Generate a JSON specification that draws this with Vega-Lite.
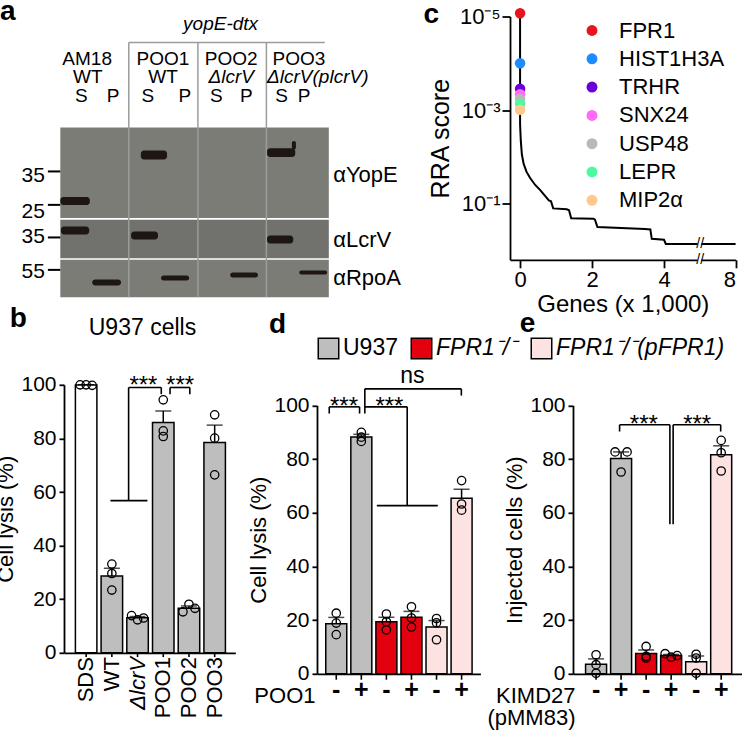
{
  "$schema": "https://vega.github.io/schema/vega-lite/v6.json",
  "padding": {"left": -6, "top": -2.5, "right": 0, "bottom": 0},
  "background": "white",
  "bounds": "flush",
  "spacing": 368.3,
  "resolve": {"scale": {"color": "independent"}, "legend": {"color": "independent"}},
  "config": {
    "font": "Liberation Sans",
    "view": {"stroke": null},
    "axis": {"grid": false, "domainColor": "black", "domainWidth": 1.8, "tickColor": "black", "tickWidth": 1.8, "labelColor": "black", "titleColor": "black", "labelFontSize": 21, "titleFontSize": 22, "titleFontWeight": "normal", "tickSize": 5, "labelPadding": 3, "titlePadding": 3},
    "legend": {"labelColor": "black", "padding": 0},
    "text": {"color": "black"}
  },
  "vconcat": [
    {
      "hconcat": [
        {
          "width": 345.7, "height": 280.7,
          "layer": [
            {"data": {"values": [
              {"probe": "YopE", "x1": 0, "x2": 8, "y1": 0, "y2": 53.4},
              {"probe": "LcrV", "x1": 0, "x2": 8, "y1": 54.4, "y2": 77.0},
              {"probe": "RpoA", "x1": 0, "x2": 8, "y1": 78.0, "y2": 100}]},
             "mark": {"type": "rect"},
             "encoding": {
               "x": {"field": "x1", "type": "quantitative", "scale": {"domain": [0.11, 10.41], "nice": false, "zero": false}, "axis": null},
               "x2": {"field": "x2"},
               "y": {"field": "y1", "type": "quantitative", "scale": {"domain": [-65.4, 100], "reverse": true, "nice": false, "zero": false}, "axis": null},
               "y2": {"field": "y2"},
               "color": {"condition": {"test": "datum.probe == 'LcrV'", "value": "#71716d"}, "value": "#7c7c77"}
             }},
            {"data": {"values": [
              {"x1": 2.04, "x2": 2.04, "y1": -50.1, "y2": 100},
              {"x1": 4.10, "x2": 4.10, "y1": -50.1, "y2": 100},
              {"x1": 6.14, "x2": 6.14, "y1": -50.1, "y2": 100},
              {"x1": 2.04, "x2": 7.88, "y1": -50.1, "y2": -50.1}]},
             "mark": {"type": "rule", "color": "#9c9c9c", "strokeWidth": 1.5},
             "encoding": {
               "x": {"field": "x1", "type": "quantitative", "scale": {"domain": [0.11, 10.41], "nice": false, "zero": false}, "axis": null},
               "x2": {"field": "x2"},
               "y": {"field": "y1", "type": "quantitative", "scale": {"domain": [-65.4, 100], "reverse": true, "nice": false, "zero": false}, "axis": null},
               "y2": {"field": "y2"}
             }},
            {"data": {"values": [
              {"probe": "YopE", "lane": "AM18 S", "x1": 0.00, "x2": 0.88, "y1": 40.9, "y2": 45.6},
              {"probe": "YopE", "lane": "POO1 S", "x1": 2.40, "x2": 3.18, "y1": 13.6, "y2": 18.9},
              {"probe": "YopE", "lane": "POO3 S", "x1": 6.16, "x2": 7.00, "y1": 12.2, "y2": 17.4},
              {"probe": "YopE", "lane": "POO3 S", "x1": 6.9, "x2": 7.02, "y1": 8.0, "y2": 13.0},
              {"probe": "LcrV", "lane": "AM18 S", "x1": 0.02, "x2": 0.86, "y1": 58.3, "y2": 63.1},
              {"probe": "LcrV", "lane": "POO1 S", "x1": 2.11, "x2": 2.91, "y1": 61.3, "y2": 66.0},
              {"probe": "LcrV", "lane": "POO3 S", "x1": 6.16, "x2": 6.94, "y1": 63.6, "y2": 68.4},
              {"probe": "RpoA", "lane": "AM18 P", "x1": 0.95, "x2": 1.81, "y1": 89.6, "y2": 93.1},
              {"probe": "RpoA", "lane": "POO1 P", "x1": 3.00, "x2": 3.84, "y1": 87.2, "y2": 90.2},
              {"probe": "RpoA", "lane": "POO2 P", "x1": 5.06, "x2": 5.89, "y1": 85.4, "y2": 88.4},
              {"probe": "RpoA", "lane": "POO3 P", "x1": 7.12, "x2": 7.95, "y1": 84.3, "y2": 86.6}]},
             "mark": {"type": "rect", "cornerRadius": 3, "color": "#1d1612"},
             "encoding": {
               "x": {"field": "x1", "type": "quantitative", "scale": {"domain": [0.11, 10.41], "nice": false, "zero": false}, "axis": null},
               "x2": {"field": "x2"},
               "y": {"field": "y1", "type": "quantitative", "scale": {"domain": [-65.4, 100], "reverse": true, "nice": false, "zero": false}, "axis": null},
               "y2": {"field": "y2"}
             }},
            {"data": {"values": [
              {"x1": -0.37, "x2": 0, "y1": 25.9, "y2": 25.9},
              {"x1": -0.37, "x2": 0, "y1": 45.6, "y2": 45.6},
              {"x1": -0.37, "x2": 0, "y1": 64.8, "y2": 64.8},
              {"x1": -0.37, "x2": 0, "y1": 83.9, "y2": 83.9}]},
             "mark": {"type": "rule", "color": "black", "strokeWidth": 2},
             "encoding": {
               "x": {"field": "x1", "type": "quantitative", "scale": {"domain": [0.11, 10.41], "nice": false, "zero": false}, "axis": null},
               "x2": {"field": "x2"},
               "y": {"field": "y1", "type": "quantitative", "scale": {"domain": [-65.4, 100], "reverse": true, "nice": false, "zero": false}, "axis": null},
               "y2": {"field": "y2"}
             }},
            {"data": {"values": [
              {"x": -0.46, "y": 28.5, "t": "35"},
              {"x": -0.46, "y": 49.8, "t": "25"},
              {"x": -0.46, "y": 64.8, "t": "35"},
              {"x": -0.46, "y": 84.9, "t": "55"}]},
             "mark": {"type": "text", "fontSize": 21, "align": "right", "baseline": "middle"},
             "encoding": {
               "x": {"field": "x", "type": "quantitative", "scale": {"domain": [0.11, 10.41], "nice": false, "zero": false}, "axis": null},
               "y": {"field": "y", "type": "quantitative", "scale": {"domain": [-65.4, 100], "reverse": true, "nice": false, "zero": false}, "axis": null},
               "text": {"field": "t"}
             }},
            {"data": {"values": [
              {"x": 8.13, "y": 27.9, "t": "αYopE"},
              {"x": 8.13, "y": 66.2, "t": "αLcrV"},
              {"x": 8.13, "y": 88.8, "t": "αRpoA"}]},
             "mark": {"type": "text", "fontSize": 22, "align": "left", "baseline": "middle"},
             "encoding": {
               "x": {"field": "x", "type": "quantitative", "scale": {"domain": [0.11, 10.41], "nice": false, "zero": false}, "axis": null},
               "y": {"field": "y", "type": "quantitative", "scale": {"domain": [-65.4, 100], "reverse": true, "nice": false, "zero": false}, "axis": null},
               "text": {"field": "t"}
             }},
            {"data": {"values": [
              {"x": 0.80, "y": -40.5, "t": "AM18"},
              {"x": 3.06, "y": -40.5, "t": "POO1"},
              {"x": 5.09, "y": -40.5, "t": "POO2"},
              {"x": 7.11, "y": -40.5, "t": "POO3"},
              {"x": 0.82, "y": -29.7, "t": "WT"},
              {"x": 3.06, "y": -29.7, "t": "WT"},
              {"x": 0.63, "y": -18.8, "t": "S"},
              {"x": 1.57, "y": -18.8, "t": "P"},
              {"x": 2.61, "y": -18.8, "t": "S"},
              {"x": 3.71, "y": -18.8, "t": "P"},
              {"x": 4.65, "y": -18.8, "t": "S"},
              {"x": 5.54, "y": -18.8, "t": "P"},
              {"x": 6.59, "y": -18.8, "t": "S"},
              {"x": 7.26, "y": -18.8, "t": "P"}]},
             "mark": {"type": "text", "fontSize": 19, "align": "center", "baseline": "middle"},
             "encoding": {
               "x": {"field": "x", "type": "quantitative", "scale": {"domain": [0.11, 10.41], "nice": false, "zero": false}, "axis": null},
               "y": {"field": "y", "type": "quantitative", "scale": {"domain": [-65.4, 100], "reverse": true, "nice": false, "zero": false}, "axis": null},
               "text": {"field": "t"}
             }},
            {"data": {"values": [
              {"x": 4.775, "y": -60.7, "t": "yopE-dtx"},
              {"x": 5.09, "y": -29.7, "t": "ΔlcrV"}]},
             "mark": {"type": "text", "fontSize": 19, "fontStyle": "italic", "align": "center", "baseline": "middle"},
             "encoding": {
               "x": {"field": "x", "type": "quantitative", "scale": {"domain": [0.11, 10.41], "nice": false, "zero": false}, "axis": null},
               "y": {"field": "y", "type": "quantitative", "scale": {"domain": [-65.4, 100], "reverse": true, "nice": false, "zero": false}, "axis": null},
               "text": {"field": "t"}
             }},
            {"data": {"values": [
              {"x": 6.16, "y": -29.7, "t": "ΔlcrV(plcrV)"}]},
             "mark": {"type": "text", "fontSize": 19, "fontStyle": "italic", "align": "left", "baseline": "middle"},
             "encoding": {
               "x": {"field": "x", "type": "quantitative", "scale": {"domain": [0.11, 10.41], "nice": false, "zero": false}, "axis": null},
               "y": {"field": "y", "type": "quantitative", "scale": {"domain": [-65.4, 100], "reverse": true, "nice": false, "zero": false}, "axis": null},
               "text": {"field": "t"}
             }},
            {"data": {"values": [{"x": -1.797, "y": -63.6, "t": "a"}]},
             "mark": {"type": "text", "fontSize": 28, "fontWeight": "bold", "align": "left", "baseline": "alphabetic"},
             "encoding": {
               "x": {"field": "x", "type": "quantitative", "scale": {"domain": [0.11, 10.41], "nice": false, "zero": false}, "axis": null},
               "y": {"field": "y", "type": "quantitative", "scale": {"domain": [-65.4, 100], "reverse": true, "nice": false, "zero": false}, "axis": null},
               "text": {"field": "t"}
             }}
          ]
        },
        {
          "width": 225.6, "height": 243.3,
          "layer": [
            {"data": {"values": [
              {"s": 0, "g": 0, "r": 0.0000085},
              {"s": 1, "g": 0, "r": 0.002},
              {"s": 2, "g": 0.02, "r": 0.0045},
              {"s": 3, "g": 0.05, "r": 0.0089},
              {"s": 4, "g": 0.1, "r": 0.0141},
              {"s": 5, "g": 0.18, "r": 0.0209},
              {"s": 6, "g": 0.28, "r": 0.0282},
              {"s": 7, "g": 0.42, "r": 0.0398},
              {"s": 8, "g": 0.56, "r": 0.0513},
              {"s": 9, "g": 0.70, "r": 0.0692},
              {"s": 10, "g": 0.80, "r": 0.0851},
              {"s": 11, "g": 0.86, "r": 0.0891},
              {"s": 12, "g": 0.92, "r": 0.126},
              {"s": 13, "g": 1.30, "r": 0.132},
              {"s": 14, "g": 1.36, "r": 0.138},
              {"s": 15, "g": 1.42, "r": 0.204},
              {"s": 16, "g": 2.04, "r": 0.209},
              {"s": 17, "g": 2.08, "r": 0.219},
              {"s": 18, "g": 2.15, "r": 0.316},
              {"s": 19, "g": 3.47, "r": 0.347},
              {"s": 20, "g": 3.62, "r": 0.355},
              {"s": 21, "g": 3.66, "r": 0.562},
              {"s": 22, "g": 4.0, "r": 0.589},
              {"s": 23, "g": 4.05, "r": 0.724},
              {"s": 24, "g": 8.0, "r": 0.724}]},
             "mark": {"type": "line", "color": "black", "strokeWidth": 2},
             "encoding": {
               "x": {"field": "g", "type": "quantitative", "title": "Genes (x 1,000)", "scale": {"type": "linear", "domain": [-0.28, 5, 8], "range": [0, 190, 225.6], "nice": false, "zero": false},
                     "axis": {"values": [0, 2, 4, 8], "tickSize": 8, "labelFontSize": 22, "labelPadding": 2, "titleFontSize": 24, "titlePadding": 2}},
               "y": {"field": "r", "type": "quantitative", "title": "RRA score", "scale": {"type": "log", "domain": [0.00001, 1.58], "reverse": true, "nice": false},
                     "axis": {"values": [0.00001, 0.001, 0.1], "tickSize": 8, "labelFontSize": 22, "labelPadding": 2, "labelExpr": "datum.value < 0.00003 ? '10⁻⁵' : datum.value < 0.003 ? '10⁻³' : '10⁻¹'", "titleFontSize": 25, "titlePadding": 6}},
               "order": {"field": "s"}
             }},
            {"data": {"values": [
              {"g1": 4.93, "g2": 5.12, "r1": 0.6, "r2": 0.88},
              {"g1": 4.93, "g2": 5.12, "r1": 1.3, "r2": 2.0}]},
             "mark": {"type": "rect", "color": "white"},
             "encoding": {
               "x": {"field": "g1", "type": "quantitative", "title": "Genes (x 1,000)", "scale": {"type": "linear", "domain": [-0.28, 5, 8], "range": [0, 190, 225.6], "nice": false, "zero": false}},
               "x2": {"field": "g2"},
               "y": {"field": "r1", "type": "quantitative", "title": "RRA score", "scale": {"type": "log", "domain": [0.00001, 1.58], "reverse": true, "nice": false}},
               "y2": {"field": "r2"}
             }},
            {"data": {"values": [{"g": 5.02, "r": 0.724}, {"g": 5.02, "r": 1.58}]},
             "mark": {"type": "text", "text": "//", "fontSize": 14, "align": "center", "baseline": "middle"},
             "encoding": {
               "x": {"field": "g", "type": "quantitative", "title": "Genes (x 1,000)", "scale": {"type": "linear", "domain": [-0.28, 5, 8], "range": [0, 190, 225.6], "nice": false, "zero": false}},
               "y": {"field": "r", "type": "quantitative", "title": "RRA score", "scale": {"type": "log", "domain": [0.00001, 1.58], "reverse": true, "nice": false}}
             }},
            {"data": {"values": [
              {"gene": "FPR1", "g": 0, "r": 0.0000085},
              {"gene": "HIST1H3A", "g": 0, "r": 0.0001},
              {"gene": "TRHR", "g": 0, "r": 0.00035},
              {"gene": "SNX24", "g": 0, "r": 0.00046},
              {"gene": "USP48", "g": 0, "r": 0.00058},
              {"gene": "LEPR", "g": 0, "r": 0.00073},
              {"gene": "MIP2α", "g": 0, "r": 0.00098}]},
             "mark": {"type": "circle", "size": 110, "opacity": 1},
             "encoding": {
               "x": {"field": "g", "type": "quantitative", "title": "Genes (x 1,000)", "scale": {"type": "linear", "domain": [-0.28, 5, 8], "range": [0, 190, 225.6], "nice": false, "zero": false}},
               "y": {"field": "r", "type": "quantitative", "title": "RRA score", "scale": {"type": "log", "domain": [0.00001, 1.58], "reverse": true, "nice": false}},
               "color": {"field": "gene", "type": "nominal",
                         "scale": {"domain": ["FPR1", "HIST1H3A", "TRHR", "SNX24", "USP48", "LEPR", "MIP2α"], "range": ["#e8141c", "#1e8cff", "#6a00d8", "#ff6bf5", "#b9b9b9", "#4dfaa0", "#ffc88c"]},
                         "legend": {"title": null, "orient": "none", "legendX": 71, "legendY": 3, "labelFontSize": 22, "symbolSize": 120, "symbolType": "circle", "rowPadding": 6.3, "labelOffset": 16, "padding": 0, "symbolStrokeWidth": 0}}
             }},
            {"data": {"values": [{"g": -2.686, "r": 0.00001377, "t": "c"}]},
             "mark": {"type": "text", "fontSize": 28, "fontWeight": "bold", "align": "left", "baseline": "alphabetic"},
             "encoding": {
               "x": {"field": "g", "type": "quantitative", "title": "Genes (x 1,000)", "scale": {"type": "linear", "domain": [-0.28, 5, 8], "range": [0, 190, 225.6], "nice": false, "zero": false}},
               "y": {"field": "r", "type": "quantitative", "title": "RRA score", "scale": {"type": "log", "domain": [0.00001, 1.58], "reverse": true, "nice": false}},
               "text": {"field": "t"}
             }}
          ]
        }
      ],
      "spacing": 100,
      "bounds": "flush",
      "resolve": {"scale": {"color": "independent"}, "legend": {"color": "independent"}}
    },
    {
      "hconcat": [
        {
          "width": 171.3, "height": 268,
          "layer": [
            {"data": {"name": "b"},
             "mark": {"type": "errorbar", "extent": "stderr", "orient": "vertical", "color": "black", "thickness": 1.5, "ticks": {"size": 16, "thickness": 1.5}},
             "encoding": {
               "x": {"field": "i", "type": "quantitative", "title": null, "scale": {"domain": [-0.667, 5.608], "nice": false, "zero": false},
                     "axis": {"labels": false, "ticks": false}},
               "y": {"field": "v", "type": "quantitative", "title": "Cell lysis (%)", "scale": {"domain": [0, 100], "nice": false, "zero": false},
                     "axis": {"values": [0, 20, 40, 60, 80, 100]}}
             }},
            {"data": {"name": "b"},
             "mark": {"type": "bar", "width": 21.5, "stroke": "black", "strokeWidth": 1.5},
             "encoding": {
               "x": {"field": "i", "type": "quantitative", "title": null, "scale": {"domain": [-0.667, 5.608], "nice": false, "zero": false},
                     "axis": {"labels": false, "ticks": false}},
               "y": {"aggregate": "mean", "field": "v", "type": "quantitative", "title": "Cell lysis (%)", "scale": {"domain": [0, 100], "nice": false, "zero": false},
                     "axis": {"values": [0, 20, 40, 60, 80, 100]}},
               "color": {"condition": {"test": "datum.i == 0", "value": "white"}, "value": "#bebebe"}
             }},
            {"data": {"name": "b"},
             "transform": [{"filter": "datum.j == 0"}],
             "mark": {"type": "point", "shape": "circle", "filled": false, "stroke": "black", "strokeWidth": 1.3, "size": 70, "opacity": 1},
             "encoding": {
               "x": {"field": "i", "type": "quantitative", "title": null, "scale": {"domain": [-0.667, 5.608], "nice": false, "zero": false}},
               "y": {"field": "v", "type": "quantitative", "title": "Cell lysis (%)", "scale": {"domain": [0, 100], "nice": false, "zero": false}}
             }},
            {"data": {"name": "b"},
             "transform": [{"filter": "datum.j == -1"}],
             "mark": {"type": "point", "shape": "circle", "filled": false, "stroke": "black", "strokeWidth": 1.3, "size": 70, "opacity": 1, "xOffset": -6},
             "encoding": {
               "x": {"field": "i", "type": "quantitative", "title": null, "scale": {"domain": [-0.667, 5.608], "nice": false, "zero": false}},
               "y": {"field": "v", "type": "quantitative", "title": "Cell lysis (%)", "scale": {"domain": [0, 100], "nice": false, "zero": false}}
             }},
            {"data": {"name": "b"},
             "transform": [{"filter": "datum.j == 1"}],
             "mark": {"type": "point", "shape": "circle", "filled": false, "stroke": "black", "strokeWidth": 1.3, "size": 70, "opacity": 1, "xOffset": 6},
             "encoding": {
               "x": {"field": "i", "type": "quantitative", "title": null, "scale": {"domain": [-0.667, 5.608], "nice": false, "zero": false}},
               "y": {"field": "v", "type": "quantitative", "title": "Cell lysis (%)", "scale": {"domain": [0, 100], "nice": false, "zero": false}}
             }},
            {"data": {"values": [
              {"x1": 1.652, "x2": 2.923, "y1": 99, "y2": 99},
              {"x1": 2.923, "x2": 2.923, "y1": 99, "y2": 96.5},
              {"x1": 1.652, "x2": 1.652, "y1": 99, "y2": 56.8},
              {"x1": 0.945, "x2": 2.385, "y1": 56.8, "y2": 56.8},
              {"x1": 3.264, "x2": 4.033, "y1": 99, "y2": 99},
              {"x1": 3.264, "x2": 3.264, "y1": 99, "y2": 96.5},
              {"x1": 4.033, "x2": 4.033, "y1": 99, "y2": 96.5},
              {"x1": 0, "x2": 0, "y1": 0, "y2": -1.6},
              {"x1": 1, "x2": 1, "y1": 0, "y2": -1.6},
              {"x1": 2, "x2": 2, "y1": 0, "y2": -1.6},
              {"x1": 3, "x2": 3, "y1": 0, "y2": -1.6},
              {"x1": 4, "x2": 4, "y1": 0, "y2": -1.6},
              {"x1": 5, "x2": 5, "y1": 0, "y2": -1.6}]},
             "mark": {"type": "rule", "color": "black", "strokeWidth": 1.6},
             "encoding": {
               "x": {"field": "x1", "type": "quantitative", "title": null, "scale": {"domain": [-0.667, 5.608], "nice": false, "zero": false}},
               "x2": {"field": "x2"},
               "y": {"field": "y1", "type": "quantitative", "title": "Cell lysis (%)", "scale": {"domain": [0, 100], "nice": false, "zero": false}},
               "y2": {"field": "y2"}
             }},
            {"data": {"values": [
              {"x": 0, "y": -1.6, "t": "SDS"},
              {"x": 1, "y": -1.6, "t": "WT"},
              {"x": 3, "y": -1.6, "t": "POO1"},
              {"x": 4, "y": -1.6, "t": "POO2"},
              {"x": 5, "y": -1.6, "t": "POO3"}]},
             "mark": {"type": "text", "fontSize": 22, "angle": 270, "align": "right", "baseline": "middle"},
             "encoding": {
               "x": {"field": "x", "type": "quantitative", "title": null, "scale": {"domain": [-0.667, 5.608], "nice": false, "zero": false}},
               "y": {"field": "y", "type": "quantitative", "title": "Cell lysis (%)", "scale": {"domain": [0, 100], "nice": false, "zero": false}},
               "text": {"field": "t"}
             }},
            {"data": {"values": [{"x": 2, "y": -1.6, "t": "ΔlcrV"}]},
             "mark": {"type": "text", "fontSize": 22, "fontStyle": "italic", "angle": 270, "align": "right", "baseline": "middle"},
             "encoding": {
               "x": {"field": "x", "type": "quantitative", "title": null, "scale": {"domain": [-0.667, 5.608], "nice": false, "zero": false}},
               "y": {"field": "y", "type": "quantitative", "title": "Cell lysis (%)", "scale": {"domain": [0, 100], "nice": false, "zero": false}},
               "text": {"field": "t"}
             }},
            {"data": {"values": [{"x": 2.227, "y": 97.0}, {"x": 3.656, "y": 97.0}]},
             "mark": {"type": "text", "text": "***", "fontSize": 24, "align": "center", "baseline": "alphabetic"},
             "encoding": {
               "x": {"field": "x", "type": "quantitative", "title": null, "scale": {"domain": [-0.667, 5.608], "nice": false, "zero": false}},
               "y": {"field": "y", "type": "quantitative", "title": "Cell lysis (%)", "scale": {"domain": [0, 100], "nice": false, "zero": false}}
             }},
            {"data": {"values": [{"x": 2.19, "y": 118.7, "t": "U937 cells"}]},
             "mark": {"type": "text", "fontSize": 23, "align": "center", "baseline": "alphabetic"},
             "encoding": {
               "x": {"field": "x", "type": "quantitative", "title": null, "scale": {"domain": [-0.667, 5.608], "nice": false, "zero": false}},
               "y": {"field": "y", "type": "quantitative", "title": "Cell lysis (%)", "scale": {"domain": [0, 100], "nice": false, "zero": false}},
               "text": {"field": "t"}
             }},
            {"data": {"values": [{"x": -2.97, "y": 121.6, "t": "b"}]},
             "mark": {"type": "text", "fontSize": 28, "fontWeight": "bold", "align": "left", "baseline": "alphabetic"},
             "encoding": {
               "x": {"field": "x", "type": "quantitative", "title": null, "scale": {"domain": [-0.667, 5.608], "nice": false, "zero": false}},
               "y": {"field": "y", "type": "quantitative", "title": "Cell lysis (%)", "scale": {"domain": [0, 100], "nice": false, "zero": false}},
               "text": {"field": "t"}
             }}
          ]
        },
        {
          "width": 174.7, "height": 289,
          "layer": [
            {"data": {"name": "d"},
             "mark": {"type": "errorbar", "extent": "stderr", "orient": "vertical", "color": "black", "thickness": 1.5, "ticks": {"size": 16, "thickness": 1.5}},
             "encoding": {
               "x": {"field": "i", "type": "quantitative", "title": "POO1", "scale": {"domain": [-0.569, 5.551], "range": [0, 163.4], "nice": false, "zero": false},
                     "axis": {"labels": false, "ticks": false, "titleFontSize": 22, "titleAngle": 0, "titleAlign": "right", "titleBaseline": "alphabetic", "titleX": -2, "titleY": 29}},
               "y": {"field": "v", "type": "quantitative", "title": "Cell lysis (%)", "scale": {"domain": [0, 100], "range": [289, 20.7], "nice": false, "zero": false},
                     "axis": {"values": [0, 20, 40, 60, 80, 100]}}
             }},
            {"data": {"name": "d"},
             "mark": {"type": "bar", "width": 21, "stroke": "black", "strokeWidth": 1.5},
             "encoding": {
               "x": {"field": "i", "type": "quantitative", "title": "POO1", "scale": {"domain": [-0.569, 5.551], "range": [0, 163.4], "nice": false, "zero": false},
                     "axis": {"labels": false, "ticks": false, "titleFontSize": 22, "titleAngle": 0, "titleAlign": "right", "titleBaseline": "alphabetic", "titleX": -2, "titleY": 29}},
               "y": {"aggregate": "mean", "field": "v", "type": "quantitative", "title": "Cell lysis (%)", "scale": {"domain": [0, 100], "range": [289, 20.7], "nice": false, "zero": false},
                     "axis": {"values": [0, 20, 40, 60, 80, 100]}},
               "color": {"field": "cell", "type": "nominal",
                         "scale": {"domain": ["U937", "FPR1-/-", "FPR1-/-(pFPR1)"], "range": ["#bebebe", "#e3000f", "#fde2e2"]},
                         "legend": {"title": null, "orient": "none", "legendX": 0, "legendY": -48, "direction": "horizontal", "symbolType": "square", "symbolSize": 420, "symbolStrokeColor": "black", "symbolStrokeWidth": 1.5, "labelFontSize": 23, "labelOffset": 3, "columnPadding": 10, "padding": 0, "labelLimit": 400,
                                    "labelExpr": "datum.value == 'U937' ? 'U937 ' : datum.value == 'FPR1-/-' ? 'FPR1⁻/⁻ ' : 'FPR1⁻/⁻(pFPR1)'",
                                    "encode": {"labels": {"update": {"fontStyle": {"signal": "datum.value == 'U937' ? 'normal' : 'italic'"}}}}}}
             }},
            {"data": {"name": "d"},
             "mark": {"type": "point", "shape": "circle", "filled": false, "stroke": "black", "strokeWidth": 1.3, "size": 70, "opacity": 1},
             "encoding": {
               "x": {"field": "i", "type": "quantitative", "title": "POO1", "scale": {"domain": [-0.569, 5.551], "range": [0, 163.4], "nice": false, "zero": false}},
               "y": {"field": "v", "type": "quantitative", "title": "Cell lysis (%)", "scale": {"domain": [0, 100], "range": [289, 20.7], "nice": false, "zero": false}}
             }},
            {"data": {"values": [
              {"x1": -0.28, "x2": 0.93, "y1": 99.5, "y2": 99.5},
              {"x1": -0.28, "x2": -0.28, "y1": 99.5, "y2": 97},
              {"x1": 0.93, "x2": 0.93, "y1": 99.5, "y2": 97},
              {"x1": 1.14, "x2": 2.83, "y1": 99.5, "y2": 99.5},
              {"x1": 1.14, "x2": 1.14, "y1": 106.2, "y2": 97},
              {"x1": 2.83, "x2": 2.83, "y1": 99.5, "y2": 62.7},
              {"x1": 1.62, "x2": 4.05, "y1": 62.7, "y2": 62.7},
              {"x1": 1.14, "x2": 4.99, "y1": 106.2, "y2": 106.2},
              {"x1": 4.99, "x2": 4.99, "y1": 106.2, "y2": 103.7},
              {"x1": 0, "x2": 0, "y1": 0, "y2": -2.2},
              {"x1": 1, "x2": 1, "y1": 0, "y2": -2.2},
              {"x1": 2, "x2": 2, "y1": 0, "y2": -2.2},
              {"x1": 3, "x2": 3, "y1": 0, "y2": -2.2},
              {"x1": 4, "x2": 4, "y1": 0, "y2": -2.2},
              {"x1": 5, "x2": 5, "y1": 0, "y2": -2.2}]},
             "mark": {"type": "rule", "color": "black", "strokeWidth": 1.6},
             "encoding": {
               "x": {"field": "x1", "type": "quantitative", "title": "POO1", "scale": {"domain": [-0.569, 5.551], "range": [0, 163.4], "nice": false, "zero": false}},
               "x2": {"field": "x2"},
               "y": {"field": "y1", "type": "quantitative", "title": "Cell lysis (%)", "scale": {"domain": [0, 100], "range": [289, 20.7], "nice": false, "zero": false}},
               "y2": {"field": "y2"}
             }},
            {"data": {"values": [
              {"x": 0, "y": -1.5, "t": "-"}, {"x": 1, "y": -1.5, "t": "+"},
              {"x": 2, "y": -1.5, "t": "-"}, {"x": 3, "y": -1.5, "t": "+"},
              {"x": 4, "y": -1.5, "t": "-"}, {"x": 5, "y": -1.5, "t": "+"}]},
             "mark": {"type": "text", "fontSize": 25, "fontWeight": "bold", "align": "center", "baseline": "top"},
             "encoding": {
               "x": {"field": "x", "type": "quantitative", "title": "POO1", "scale": {"domain": [-0.569, 5.551], "range": [0, 163.4], "nice": false, "zero": false}},
               "y": {"field": "y", "type": "quantitative", "title": "Cell lysis (%)", "scale": {"domain": [0, 100], "range": [289, 20.7], "nice": false, "zero": false}},
               "text": {"field": "t"}
             }},
            {"data": {"values": [{"x": 0.31, "y": 96.8}, {"x": 2.12, "y": 96.8}]},
             "mark": {"type": "text", "text": "***", "fontSize": 24, "align": "center", "baseline": "alphabetic"},
             "encoding": {
               "x": {"field": "x", "type": "quantitative", "title": "POO1", "scale": {"domain": [-0.569, 5.551], "range": [0, 163.4], "nice": false, "zero": false}},
               "y": {"field": "y", "type": "quantitative", "title": "Cell lysis (%)", "scale": {"domain": [0, 100], "range": [289, 20.7], "nice": false, "zero": false}}
             }},
            {"data": {"values": [{"x": 3.04, "y": 108.3, "t": "ns"}]},
             "mark": {"type": "text", "fontSize": 23, "align": "center", "baseline": "alphabetic"},
             "encoding": {
               "x": {"field": "x", "type": "quantitative", "title": "POO1", "scale": {"domain": [-0.569, 5.551], "range": [0, 163.4], "nice": false, "zero": false}},
               "y": {"field": "y", "type": "quantitative", "title": "Cell lysis (%)", "scale": {"domain": [0, 100], "range": [289, 20.7], "nice": false, "zero": false}},
               "text": {"field": "t"}
             }},
            {"data": {"values": [{"x": -2.68, "y": 127.1, "t": "d"}]},
             "mark": {"type": "text", "fontSize": 28, "fontWeight": "bold", "align": "left", "baseline": "alphabetic"},
             "encoding": {
               "x": {"field": "x", "type": "quantitative", "title": "POO1", "scale": {"domain": [-0.569, 5.551], "range": [0, 163.4], "nice": false, "zero": false}},
               "y": {"field": "y", "type": "quantitative", "title": "Cell lysis (%)", "scale": {"domain": [0, 100], "range": [289, 20.7], "nice": false, "zero": false}},
               "text": {"field": "t"}
             }}
          ]
        },
        {
          "width": 169, "height": 289,
          "layer": [
            {"data": {"name": "e"},
             "mark": {"type": "errorbar", "extent": "stderr", "orient": "vertical", "color": "black", "thickness": 1.5, "ticks": {"size": 16, "thickness": 1.5}},
             "encoding": {
               "x": {"field": "i", "type": "quantitative", "title": ["KIMD27", "(pMM83)"], "scale": {"domain": [-0.722, 5.632], "nice": false, "zero": false},
                     "axis": {"labels": false, "ticks": false, "titleFontSize": 22, "titleAngle": 0, "titleAlign": "right", "titleBaseline": "alphabetic", "titleX": 2, "titleY": 29, "titleLineHeight": 22}},
               "y": {"field": "v", "type": "quantitative", "title": "Injected cells (%)", "scale": {"domain": [0, 100], "range": [289, 20.7], "nice": false, "zero": false},
                     "axis": {"values": [0, 20, 40, 60, 80, 100]}}
             }},
            {"data": {"name": "e"},
             "mark": {"type": "bar", "width": 21, "stroke": "black", "strokeWidth": 1.5},
             "encoding": {
               "x": {"field": "i", "type": "quantitative", "title": ["KIMD27", "(pMM83)"], "scale": {"domain": [-0.722, 5.632], "nice": false, "zero": false},
                     "axis": {"labels": false, "ticks": false, "titleFontSize": 22, "titleAngle": 0, "titleAlign": "right", "titleBaseline": "alphabetic", "titleX": 2, "titleY": 29, "titleLineHeight": 22}},
               "y": {"aggregate": "mean", "field": "v", "type": "quantitative", "title": "Injected cells (%)", "scale": {"domain": [0, 100], "range": [289, 20.7], "nice": false, "zero": false},
                     "axis": {"values": [0, 20, 40, 60, 80, 100]}},
               "color": {"field": "cell", "type": "nominal",
                         "scale": {"domain": ["U937", "FPR1-/-", "FPR1-/-(pFPR1)"], "range": ["#bebebe", "#e3000f", "#fde2e2"]},
                         "legend": null}
             }},
            {"data": {"name": "e"},
             "transform": [{"filter": "datum.j == 0"}],
             "mark": {"type": "point", "shape": "circle", "filled": false, "stroke": "black", "strokeWidth": 1.3, "size": 70, "opacity": 1},
             "encoding": {
               "x": {"field": "i", "type": "quantitative", "title": ["KIMD27", "(pMM83)"], "scale": {"domain": [-0.722, 5.632], "nice": false, "zero": false}},
               "y": {"field": "v", "type": "quantitative", "title": "Injected cells (%)", "scale": {"domain": [0, 100], "range": [289, 20.7], "nice": false, "zero": false}}
             }},
            {"data": {"name": "e"},
             "transform": [{"filter": "datum.j == -1"}],
             "mark": {"type": "point", "shape": "circle", "filled": false, "stroke": "black", "strokeWidth": 1.3, "size": 70, "opacity": 1, "xOffset": -6},
             "encoding": {
               "x": {"field": "i", "type": "quantitative", "title": ["KIMD27", "(pMM83)"], "scale": {"domain": [-0.722, 5.632], "nice": false, "zero": false}},
               "y": {"field": "v", "type": "quantitative", "title": "Injected cells (%)", "scale": {"domain": [0, 100], "range": [289, 20.7], "nice": false, "zero": false}}
             }},
            {"data": {"name": "e"},
             "transform": [{"filter": "datum.j == 1"}],
             "mark": {"type": "point", "shape": "circle", "filled": false, "stroke": "black", "strokeWidth": 1.3, "size": 70, "opacity": 1, "xOffset": 6},
             "encoding": {
               "x": {"field": "i", "type": "quantitative", "title": ["KIMD27", "(pMM83)"], "scale": {"domain": [-0.722, 5.632], "nice": false, "zero": false}},
               "y": {"field": "v", "type": "quantitative", "title": "Injected cells (%)", "scale": {"domain": [0, 100], "range": [289, 20.7], "nice": false, "zero": false}}
             }},
            {"data": {"values": [
              {"x1": 0.94, "x2": 2.95, "y1": 92.8, "y2": 92.8},
              {"x1": 0.94, "x2": 0.94, "y1": 92.8, "y2": 90.3},
              {"x1": 2.95, "x2": 2.95, "y1": 92.8, "y2": 55.7},
              {"x1": 3.08, "x2": 4.98, "y1": 92.8, "y2": 92.8},
              {"x1": 3.08, "x2": 3.08, "y1": 92.8, "y2": 55.7},
              {"x1": 4.98, "x2": 4.98, "y1": 92.8, "y2": 90.3},
              {"x1": 0, "x2": 0, "y1": 0, "y2": -2.2},
              {"x1": 1, "x2": 1, "y1": 0, "y2": -2.2},
              {"x1": 2, "x2": 2, "y1": 0, "y2": -2.2},
              {"x1": 3, "x2": 3, "y1": 0, "y2": -2.2},
              {"x1": 4, "x2": 4, "y1": 0, "y2": -2.2},
              {"x1": 5, "x2": 5, "y1": 0, "y2": -2.2}]},
             "mark": {"type": "rule", "color": "black", "strokeWidth": 1.6},
             "encoding": {
               "x": {"field": "x1", "type": "quantitative", "title": ["KIMD27", "(pMM83)"], "scale": {"domain": [-0.722, 5.632], "nice": false, "zero": false}},
               "x2": {"field": "x2"},
               "y": {"field": "y1", "type": "quantitative", "title": "Injected cells (%)", "scale": {"domain": [0, 100], "range": [289, 20.7], "nice": false, "zero": false}},
               "y2": {"field": "y2"}
             }},
            {"data": {"values": [
              {"x": 0, "y": -1.5, "t": "-"}, {"x": 1, "y": -1.5, "t": "+"},
              {"x": 2, "y": -1.5, "t": "-"}, {"x": 3, "y": -1.5, "t": "+"},
              {"x": 4, "y": -1.5, "t": "-"}, {"x": 5, "y": -1.5, "t": "+"}]},
             "mark": {"type": "text", "fontSize": 25, "fontWeight": "bold", "align": "center", "baseline": "top"},
             "encoding": {
               "x": {"field": "x", "type": "quantitative", "title": ["KIMD27", "(pMM83)"], "scale": {"domain": [-0.722, 5.632], "nice": false, "zero": false}},
               "y": {"field": "y", "type": "quantitative", "title": "Injected cells (%)", "scale": {"domain": [0, 100], "range": [289, 20.7], "nice": false, "zero": false}},
               "text": {"field": "t"}
             }},
            {"data": {"values": [{"x": 1.91, "y": 90.1}, {"x": 4.04, "y": 90.1}]},
             "mark": {"type": "text", "text": "***", "fontSize": 24, "align": "center", "baseline": "alphabetic"},
             "encoding": {
               "x": {"field": "x", "type": "quantitative", "title": ["KIMD27", "(pMM83)"], "scale": {"domain": [-0.722, 5.632], "nice": false, "zero": false}},
               "y": {"field": "y", "type": "quantitative", "title": "Injected cells (%)", "scale": {"domain": [0, 100], "range": [289, 20.7], "nice": false, "zero": false}}
             }},
            {"data": {"values": [{"x": -3.05, "y": 127.3, "t": "e"}]},
             "mark": {"type": "text", "fontSize": 28, "fontWeight": "bold", "align": "left", "baseline": "alphabetic"},
             "encoding": {
               "x": {"field": "x", "type": "quantitative", "title": ["KIMD27", "(pMM83)"], "scale": {"domain": [-0.722, 5.632], "nice": false, "zero": false}},
               "y": {"field": "y", "type": "quantitative", "title": "Injected cells (%)", "scale": {"domain": [0, 100], "range": [289, 20.7], "nice": false, "zero": false}},
               "text": {"field": "t"}
             }}
          ]
        }
      ],
      "spacing": 81,
      "bounds": "flush",
      "resolve": {"scale": {"color": "independent"}, "legend": {"color": "independent"}}
    }
  ],
  "datasets": {
    "b": [
      {"strain": "SDS", "i": 0, "v": 100, "j": -1}, {"strain": "SDS", "i": 0, "v": 100, "j": 0}, {"strain": "SDS", "i": 0, "v": 99.8, "j": 1},
      {"strain": "WT", "i": 1, "v": 33.1, "j": 0}, {"strain": "WT", "i": 1, "v": 29.6, "j": 0}, {"strain": "WT", "i": 1, "v": 23.4, "j": 0},
      {"strain": "ΔlcrV", "i": 2, "v": 13.9, "j": -1}, {"strain": "ΔlcrV", "i": 2, "v": 12.3, "j": 0}, {"strain": "ΔlcrV", "i": 2, "v": 13.0, "j": 1},
      {"strain": "POO1", "i": 3, "v": 94.4, "j": 0}, {"strain": "POO1", "i": 3, "v": 82.8, "j": 0}, {"strain": "POO1", "i": 3, "v": 80.7, "j": 0},
      {"strain": "POO2", "i": 4, "v": 15.3, "j": -1}, {"strain": "POO2", "i": 4, "v": 18.1, "j": 0}, {"strain": "POO2", "i": 4, "v": 16.6, "j": 1},
      {"strain": "POO3", "i": 5, "v": 88.8, "j": 0}, {"strain": "POO3", "i": 5, "v": 80.1, "j": 0}, {"strain": "POO3", "i": 5, "v": 66.4, "j": 0}
    ],
    "d": [
      {"cell": "U937", "poo1": "-", "i": 0, "v": 22.6}, {"cell": "U937", "poo1": "-", "i": 0, "v": 18.9}, {"cell": "U937", "poo1": "-", "i": 0, "v": 14.6},
      {"cell": "U937", "poo1": "+", "i": 1, "v": 90.0}, {"cell": "U937", "poo1": "+", "i": 1, "v": 88.2}, {"cell": "U937", "poo1": "+", "i": 1, "v": 86.6},
      {"cell": "FPR1-/-", "poo1": "-", "i": 2, "v": 22.3}, {"cell": "FPR1-/-", "poo1": "-", "i": 2, "v": 19.4}, {"cell": "FPR1-/-", "poo1": "-", "i": 2, "v": 16.4},
      {"cell": "FPR1-/-", "poo1": "+", "i": 3, "v": 25.0}, {"cell": "FPR1-/-", "poo1": "+", "i": 3, "v": 20.8}, {"cell": "FPR1-/-", "poo1": "+", "i": 3, "v": 17.4},
      {"cell": "FPR1-/-(pFPR1)", "poo1": "-", "i": 4, "v": 20.6}, {"cell": "FPR1-/-(pFPR1)", "poo1": "-", "i": 4, "v": 19.0}, {"cell": "FPR1-/-(pFPR1)", "poo1": "-", "i": 4, "v": 12.7},
      {"cell": "FPR1-/-(pFPR1)", "poo1": "+", "i": 5, "v": 72.0}, {"cell": "FPR1-/-(pFPR1)", "poo1": "+", "i": 5, "v": 63.3}, {"cell": "FPR1-/-(pFPR1)", "poo1": "+", "i": 5, "v": 61.0}
    ],
    "e": [
      {"cell": "U937", "kimd27": "-", "i": 0, "v": 7.1, "j": 0}, {"cell": "U937", "kimd27": "-", "i": 0, "v": 3.4, "j": 0}, {"cell": "U937", "kimd27": "-", "i": 0, "v": 0.2, "j": 0},
      {"cell": "U937", "kimd27": "+", "i": 1, "v": 82.7, "j": -1}, {"cell": "U937", "kimd27": "+", "i": 1, "v": 82.7, "j": 1}, {"cell": "U937", "kimd27": "+", "i": 1, "v": 75.2, "j": 0},
      {"cell": "FPR1-/-", "kimd27": "-", "i": 2, "v": 10.2, "j": 0}, {"cell": "FPR1-/-", "kimd27": "-", "i": 2, "v": 5.9, "j": 0}, {"cell": "FPR1-/-", "kimd27": "-", "i": 2, "v": 6.5, "j": 0},
      {"cell": "FPR1-/-", "kimd27": "+", "i": 3, "v": 7.5, "j": -1}, {"cell": "FPR1-/-", "kimd27": "+", "i": 3, "v": 6.2, "j": 0}, {"cell": "FPR1-/-", "kimd27": "+", "i": 3, "v": 6.8, "j": 1},
      {"cell": "FPR1-/-(pFPR1)", "kimd27": "-", "i": 4, "v": 7.3, "j": 0}, {"cell": "FPR1-/-(pFPR1)", "kimd27": "-", "i": 4, "v": 5.9, "j": 0}, {"cell": "FPR1-/-(pFPR1)", "kimd27": "-", "i": 4, "v": 0.2, "j": 0},
      {"cell": "FPR1-/-(pFPR1)", "kimd27": "+", "i": 5, "v": 87.0, "j": 0}, {"cell": "FPR1-/-(pFPR1)", "kimd27": "+", "i": 5, "v": 82.4, "j": 0}, {"cell": "FPR1-/-(pFPR1)", "kimd27": "+", "i": 5, "v": 75.6, "j": 0}
    ]
  }
}
